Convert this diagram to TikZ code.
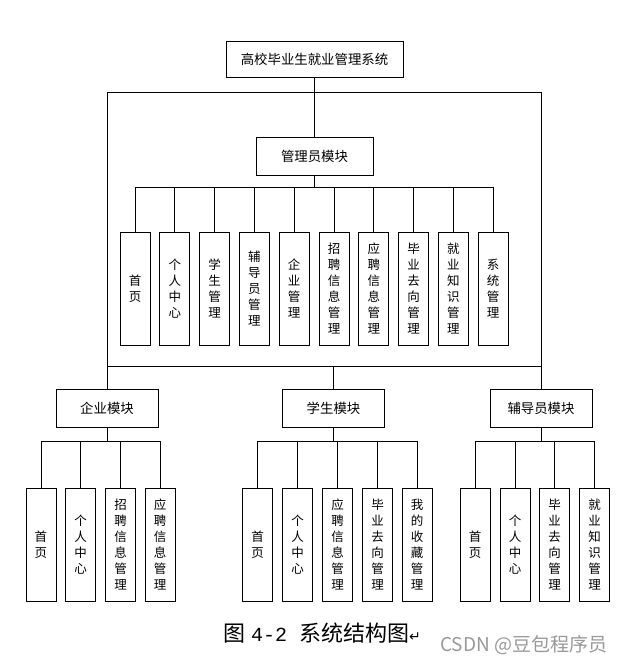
\documentclass[tikz,border=0pt]{standalone}
\usepackage{fontspec}
\setmainfont{Noto Sans CJK SC}
\newfontfamily\dejavu{DejaVu Sans}
\newfontfamily\lmono{Liberation Mono}
\begin{document}
\begin{tikzpicture}[x=1pt,y=-1pt,
  box/.style={draw=black,line width=0.9pt,inner sep=0pt,minimum width=#1,minimum height=37pt,font=\fontsize{13.4}{15}\selectfont,align=center},
  vbox/.style={draw=black,line width=0.9pt,inner sep=0pt,minimum width=30pt,minimum height=113pt,font=\fontsize{12.5}{16}\selectfont,align=center,text width=14pt},
  conn/.style={line width=0.9pt,black}]
\useasboundingbox (0,0) rectangle (627,663);
\fill[white] (0,0) rectangle (627,663);
% top levels
\node[box=177pt,minimum height=36pt] (top) at (314.5,59.5) {高校毕业生就业管理系统};
\node[box=117pt,minimum height=38pt] (admin) at (314.5,156.5) {管理员模块};
\node[box=102pt,minimum height=38pt] (ent) at (107,408) {企业模块};
\node[box=102pt,minimum height=38pt] (stu) at (333.5,408) {学生模块};
\node[box=102pt,minimum height=38pt] (cou) at (541,408) {辅导员模块};
% admin children
\foreach \i/\x/\t in {1/135/首\\页,2/174.8/个\\人\\中\\心,3/214.6/学\\生\\管\\理,4/254.4/辅\\导\\员\\管\\理,5/294.2/企\\业\\管\\理,6/334/招\\聘\\信\\息\\管\\理,7/373.8/应\\聘\\信\\息\\管\\理,8/413.6/毕\\业\\去\\向\\管\\理,9/453.4/就\\业\\知\\识\\管\\理,10/493.2/系\\统\\管\\理}
  \node[vbox] (a\i) at (\x,288.5) {\t};
% enterprise children
\foreach \i/\x/\t in {1/41/首\\页,2/80.5/个\\人\\中\\心,3/120.5/招\\聘\\信\\息\\管\\理,4/160/应\\聘\\信\\息\\管\\理}
  \node[vbox] (e\i) at (\x,544.5) {\t};
% student children
\foreach \i/\x/\t in {1/257.5/首\\页,2/297.5/个\\人\\中\\心,3/337.5/应\\聘\\信\\息\\管\\理,4/377.5/毕\\业\\去\\向\\管\\理,5/417/我\\的\\收\\藏\\管\\理}
  \node[vbox] (s\i) at (\x,544.5) {\t};
% counselor children
\foreach \i/\x/\t in {1/475/首\\页,2/515/个\\人\\中\\心,3/554.5/毕\\业\\去\\向\\管\\理,4/594.5/就\\业\\知\\识\\管\\理}
  \node[vbox] (c\i) at (\x,544.5) {\t};
% bus coordinates
\coordinate (hb) at (314.5,92);
\coordinate (lb) at (314.5,366);
\coordinate (ab) at (314.5,187);
\coordinate (mb) at (314.5,441);
% frame
\draw[conn] (top.south) -- (admin.north);
\draw[conn] (ent.north) -- (ent.north |- hb) -- (cou.north |- hb) -- (cou.north);
\draw[conn] (ent.north |- lb) -- (cou.north |- lb);
\draw[conn] (stu.north) -- (stu.north |- lb);
% admin bus
\draw[conn] (admin.south) -- (admin.south |- ab);
\draw[conn] (a1.north |- ab) -- (a10.north |- ab);
\foreach \i in {1,...,10} \draw[conn] (a\i.north) -- (a\i.north |- ab);
% module buses
\draw[conn] (ent.south) -- (ent.south |- mb);
\draw[conn] (e1.north |- mb) -- (e4.north |- mb);
\foreach \i in {1,...,4} \draw[conn] (e\i.north) -- (e\i.north |- mb);
\draw[conn] (stu.south) -- (stu.south |- mb);
\draw[conn] (s1.north |- mb) -- (s5.north |- mb);
\foreach \i in {1,...,5} \draw[conn] (s\i.north) -- (s\i.north |- mb);
\draw[conn] (cou.south) -- (cou.south |- mb);
\draw[conn] (c1.north |- mb) -- (c4.north |- mb);
\foreach \i in {1,...,4} \draw[conn] (c\i.north) -- (c\i.north |- mb);
% caption
\node[anchor=west,inner sep=0pt,font=\fontsize{22}{24}\selectfont] (cap) at (223,633) {图\hspace{6pt}{\lmono\fontsize{20}{22}\selectfont 4-2}\hspace{12pt}系统结构图{\dejavu\fontsize{14}{16}\selectfont ↵}};
\node[anchor=west,inner sep=0pt,text=black!40,font=\fontsize{19}{21}\selectfont] (wm) at (440,645) {CSDN @豆包程序员};
\end{tikzpicture}
\end{document}
